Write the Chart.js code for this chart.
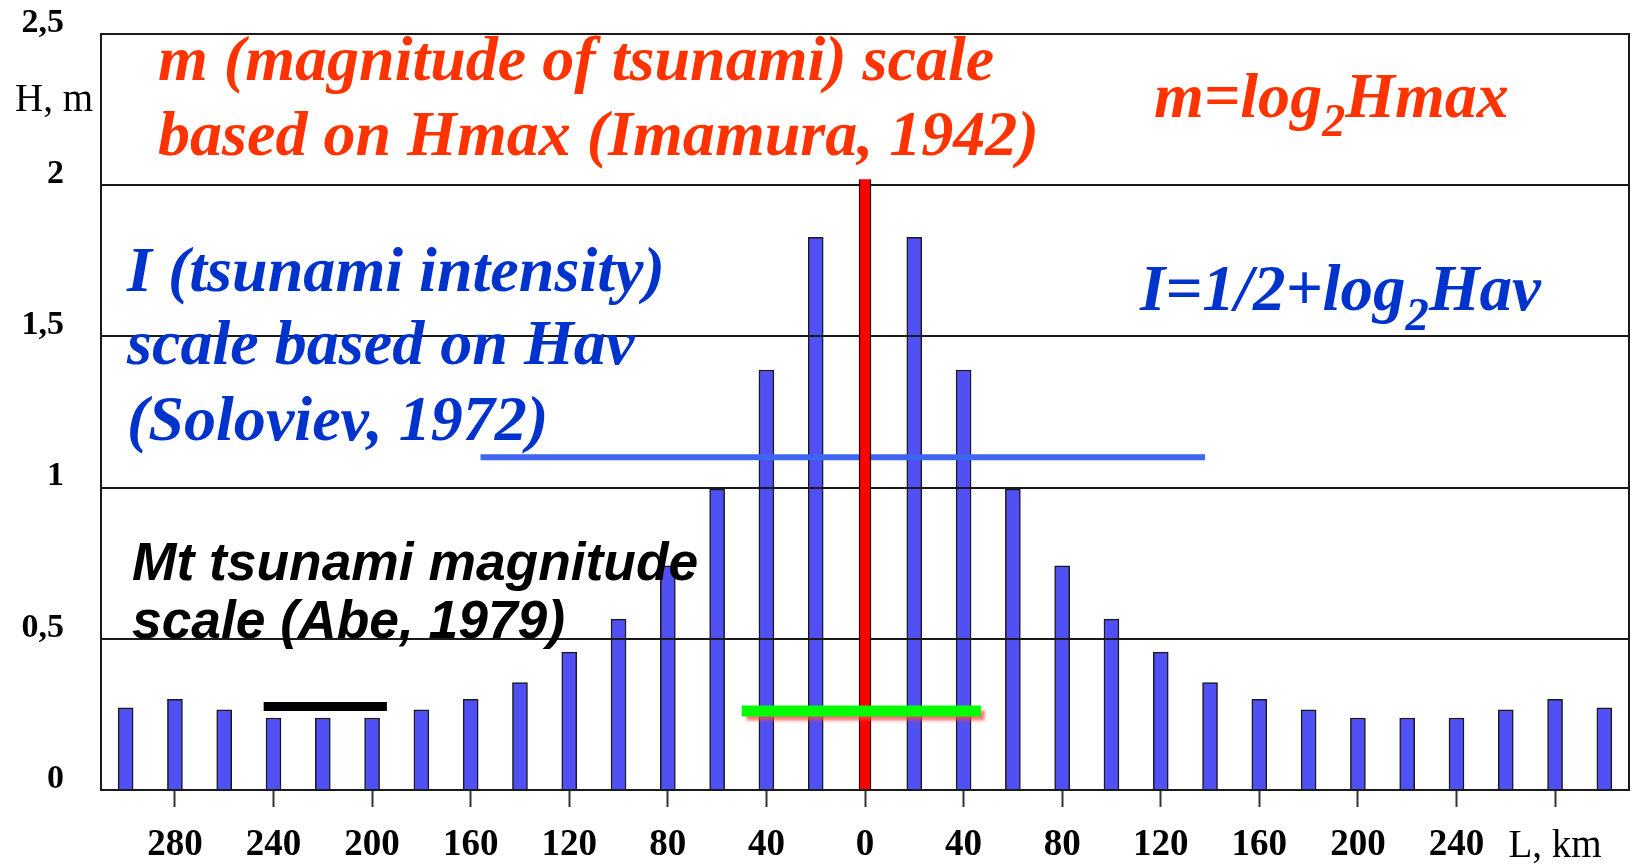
<!DOCTYPE html>
<html><head><meta charset="utf-8">
<script src="https://cdn.jsdelivr.net/npm/chart.js@4.4.1/dist/chart.umd.min.js"></script>
<style>html,body{margin:0;padding:0;background:#fff}canvas{display:block}</style>
</head><body>
<canvas id="c" width="1635" height="867"></canvas>
<script>
// ---- data ----
const barKm = [-300,-280,-260,-240,-220,-200,-180,-160,-140,-120,-100,-80,-60,-40,-20,
               20,40,60,80,100,120,140,160,180,200,220,240,260,280,300];
const barH  = [0.272,0.30,0.265,0.238,0.238,0.238,0.265,0.30,0.355,0.456,0.565,0.741,0.995,1.389,1.828,
               1.828,1.389,0.995,0.741,0.565,0.456,0.355,0.30,0.265,0.238,0.238,0.238,0.265,0.30,0.272];
const hmaxKm = [0];
const hmaxH  = [2.02];
const havLineKm = [-156, 138];
const havLineH  = [1.1, 1.1];
const greenLineKm = [-50, 47];
const greenLineH  = [0.261, 0.261];
const mtLineKm = [-244, -194];
const mtLineH  = [0.276, 0.276];
const xTickValues = [-280,-240,-200,-160,-120,-80,-40,0,40,80,120,160,200,240,280];
const xTickLabels = ['280','240','200','160','120','80','40','0','40','80','120','160','200','240','L, km'];
const yTickValues = [0,0.5,1,1.5,2,2.5];
const yTickLabels = ['0','0,5','1','1,5','2','2,5'];

const pts = (xs, ys) => xs.map((x, i) => ({x, y: ys[i]}));
const SERIF = '"Liberation Serif","Times New Roman",serif';
const SANS = '"Liberation Sans",Arial,sans-serif';

const textBlocks = [
  {color:'#FF3300', family:SERIF, style:'italic bold', lines:[
    {parts:[{t:'m (magnitude of tsunami) scale'}], x:158, y:80, w:838},
    {parts:[{t:'based on Hmax (Imamura, 1942)'}], x:158, y:155, w:879}]},
  {color:'#FF3300', family:SERIF, style:'italic bold', lines:[
    {parts:[{t:'m=log'},{t:'2',sub:true},{t:'Hmax'}], x:1154, y:117, w:355}]},
  {color:'#0033CC', family:SERIF, style:'italic bold', lines:[
    {parts:[{t:'I (tsunami intensity)'}], x:127, y:291, w:538},
    {parts:[{t:'scale based on Hav'}], x:127, y:364, w:504},
    {parts:[{t:'(Soloviev, 1972)'}], x:127, y:440, w:424}]},
  {color:'#0033CC', family:SERIF, style:'italic bold', lines:[
    {parts:[{t:'I=1/2+log'},{t:'2',sub:true},{t:'Hav'}], x:1140, y:310, w:401}]},
  {color:'#000000', family:SANS, style:'italic bold', lines:[
    {parts:[{t:'Mt tsunami magnitude'}], x:132, y:580, w:565},
    {parts:[{t:'scale (Abe, 1979)'}], x:132, y:638, w:434}]}
];

const SUB = 0.72;
function partsWidth(ctx, parts, size, style, family){
  let w = 0;
  for (const p of parts){
    const s = p.sub ? size*SUB : size;
    ctx.font = style + ' ' + s + 'px ' + family;
    w += ctx.measureText(p.t).width;
  }
  return w;
}

let overlayPass = false;
const overlayPlugin = {
  id: 'overlay',
  beforeDatasetDraw(chart, args){
    const ds = chart.data.datasets[args.index];
    if (ds.onTop && !overlayPass) return false;
  },
  afterDraw(chart){
    const ctx = chart.ctx, a = chart.chartArea;
    ctx.save();
    ctx.strokeStyle = '#1a1a1a'; ctx.lineWidth = 2;
    ctx.strokeRect(a.left, a.top, a.right - a.left, a.bottom - a.top);
    ctx.restore();
    overlayPass = true;
    chart.data.datasets.forEach((ds, i) => {
      if (!ds.onTop) return;
      const meta = chart.getDatasetMeta(i);
      ctx.save();
      ctx.beginPath(); ctx.rect(a.left, a.top - 10, a.right - a.left, a.bottom - a.top + 10); ctx.clip();
      if (ds.shadowColor){
        ctx.shadowColor = ds.shadowColor; ctx.shadowOffsetX = 4; ctx.shadowOffsetY = 4; ctx.shadowBlur = 3;
      }
      meta.controller.draw();
      ctx.restore();
    });
    overlayPass = false;
    ctx.save();
    ctx.textAlign = 'left'; ctx.textBaseline = 'alphabetic';
    for (const b of textBlocks){
      const fits = b.lines.map(l => 100 * l.w / partsWidth(ctx, l.parts, 100, b.style, b.family));
      const size = fits.reduce((s, v) => s + v, 0) / fits.length;
      ctx.fillStyle = b.color;
      for (const l of b.lines){
        let x = l.x;
        for (const p of l.parts){
          const s = p.sub ? size*SUB : size;
          ctx.font = b.style + ' ' + s + 'px ' + b.family;
          ctx.fillText(p.t, x, l.y + (p.sub ? size*0.3 : 0));
          x += ctx.measureText(p.t).width;
        }
      }
    }
    ctx.fillStyle = '#000';
    ctx.font = 'normal 39px ' + SERIF;
    ctx.fillText('H, m', 15, 111);
    ctx.restore();
  }
};

new Chart(document.getElementById('c'), {
  type: 'bar',
  data: {
    datasets: [
      {type:'bar', data: pts(barKm, barH), backgroundColor:'#5050F5', borderColor:'#1a1a1a',
       borderWidth:1.5, barThickness:15, grouped:false},
      {type:'line', onTop:true, data: pts(havLineKm, havLineH), borderColor:'#3F66F2', borderWidth:6,
       pointRadius:0, fill:false, tension:0, borderCapStyle:'butt'},
      {type:'bar', onTop:true, data: pts(hmaxKm, hmaxH), backgroundColor:'#FF0000', borderColor:'#2a0000',
       borderWidth:{left:1.5,right:1.5,top:0,bottom:0}, barThickness:12, grouped:false},
      {type:'line', onTop:true, shadowColor:'rgba(255,70,70,0.75)', data: pts(greenLineKm, greenLineH),
       borderColor:'#00FF00', borderWidth:11, pointRadius:0, fill:false, tension:0, borderCapStyle:'butt'},
      {type:'line', onTop:true, data: pts(mtLineKm, mtLineH), borderColor:'#000000', borderWidth:9,
       pointRadius:0, fill:false, tension:0, borderCapStyle:'butt'}
    ]
  },
  options: {
    responsive:false, animation:false, events:[],
    layout:{padding:{top:34, right:6, left:0, bottom:0}},
    plugins:{legend:{display:false}, tooltip:{enabled:false}, title:{display:false}},
    scales:{
      x:{
        type:'linear', min:-310, max:310, offset:false,
        afterBuildTicks: s => { s.ticks = xTickValues.map(v => ({value:v})); },
        afterFit: s => { s.height = 77; s.paddingLeft = 0; s.paddingRight = 0; },
        grid:{offset:false, drawOnChartArea:false, drawTicks:true, tickLength:17, tickColor:'#333', tickWidth:2},
        border:{display:false},
        ticks:{
          autoSkip:false, maxRotation:0, minRotation:0, padding:16, color:'#000',
          callback:(v, i) => xTickLabels[i],
          font: c => (c.index === xTickLabels.length - 1)
            ? {family:SERIF, size:39, weight:'normal'}
            : {family:SERIF, size:37, weight:'bold'}
        }
      },
      y:{
        min:0, max:2.5,
        afterBuildTicks: s => { s.ticks = yTickValues.map(v => ({value:v})); },
        afterFit: s => { s.width = 101; s.paddingTop = 0; s.paddingBottom = 0; },
        grid:{z:1, color:'#1a1a1a', lineWidth:2, drawTicks:false},
        border:{display:false},
        ticks:{
          padding:37, labelOffset:-11, color:'#000',
          callback:(v, i) => yTickLabels[i],
          font:{family:SERIF, size:34, weight:'bold'}
        }
      }
    }
  },
  plugins:[overlayPlugin]
});
</script>
</body></html>
